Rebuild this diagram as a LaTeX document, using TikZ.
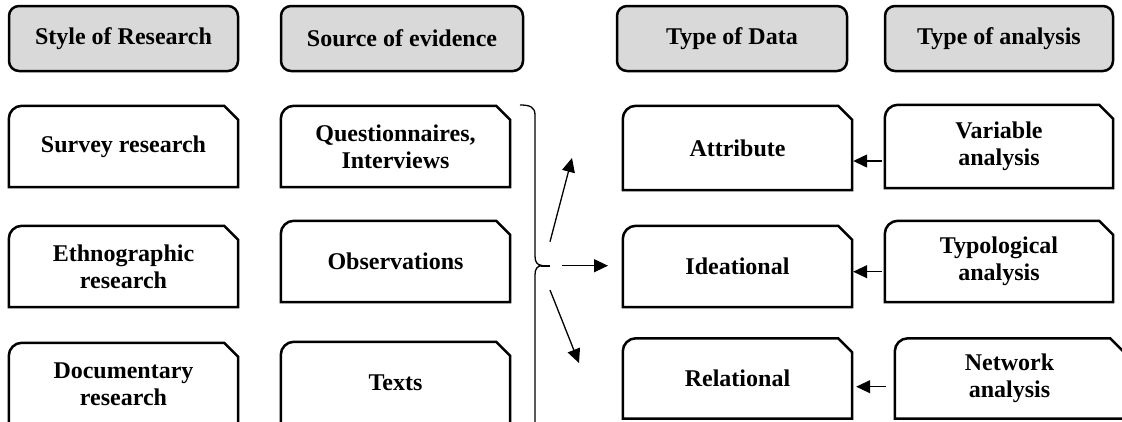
\documentclass[tikz,border=0pt]{standalone}
\usepackage{fontspec}
\setmainfont{Liberation Serif}
\usetikzlibrary{arrows.meta}
\definecolor{hdrgray}{RGB}{217,217,217}
\tikzset{
  txt/.style={font=\fontsize{24}{27}\selectfont\bfseries, align=center, inner sep=0pt},
  hdr/.style={txt, draw=black, fill=hdrgray, line width=2.5pt, rounded corners=10pt, minimum height=65pt},
  bodybox/.style={txt, minimum height=81pt, minimum width=229pt},
  outline/.style={line width=2.5pt, line join=miter},
  arr/.style={line width=1.3pt, -{Triangle[length=14pt,width=13pt]}},
  bracel/.style={line width=1.3pt},
}
\newcommand\boxoutline[1]{%
  \draw[outline] (#1.south west) -- ([yshift=-13pt]#1.north west)
    arc[start angle=180,end angle=90,radius=13pt]
    -- ([xshift=-14pt]#1.north east) -- ([yshift=-14pt]#1.north east)
    -- (#1.south east) -- cycle;}
\begin{document}
\begin{tikzpicture}[x=1pt,y=1pt]
\useasboundingbox (0,0) rectangle (1122,-421);
\clip (0,0) rectangle (1122,-421);
% headers
\node[hdr, minimum width=229pt] (h1) at (123.5,-38.5) {Style of Research};
\node[hdr, minimum width=242pt] (h2) at (402,-38.5) {Source of evidence};
\node[hdr, minimum width=230pt] (h3) at (732,-38.5) {Type of Data};
\node[hdr, minimum width=228pt] (h4) at (999,-38.5) {Type of analysis};
% body boxes
\node[bodybox] (b11) at (123.5,-146.5) {Survey research};
\node[bodybox] (b12) at (395.5,-146.5) {Questionnaires,\\Interviews};
\node[bodybox, minimum height=84pt] (b13) at (737.5,-148) {Attribute};
\node[bodybox, minimum width=228pt, minimum height=83pt] (b14) at (999,-146.5) {Variable\\analysis};
\node[bodybox] (b21) at (123.5,-266.5) {Ethnographic\\research};
\node[bodybox] (b22) at (395.5,-261.5) {Observations};
\node[bodybox] (b23) at (737.5,-266.5) {Ideational};
\node[bodybox, minimum width=228pt] (b24) at (999,-261.5) {Typological\\analysis};
\node[bodybox, minimum height=82pt] (b31) at (123.5,-384) {Documentary\\research};
\node[bodybox, minimum height=82pt] (b32) at (395.5,-383) {Texts};
\node[bodybox, minimum height=80pt] (b33) at (737.5,-378.5) {Relational};
\node[bodybox, minimum height=80pt] (b34) at (1009.5,-378.5) {Network\\analysis};
\foreach \n in {b11,b12,b13,b14,b21,b22,b23,b24,b31,b32,b33,b34} {\boxoutline{\n}}
% arrows from analysis to data
\path (b14.west |- 0,-161) ++(-3,0) coordinate (t1);
\draw[arr] (t1) -- ([xshift=1pt]b13.east |- t1);
\path (b24.west |- 0,-271.7) ++(-3,0) coordinate (t2);
\draw[arr] (t2) -- ([xshift=1pt]b23.east |- t2);
\path (b34.west |- 0,-386.7) ++(-9,0) coordinate (t3);
\draw[arr] (t3) -- ([xshift=4pt]b33.east |- t3);
% brace
\draw[bracel] (520,-105) .. controls (530,-105) and (535,-107) .. (535,-115)
  -- (535,-256) .. controls (535,-262) and (537,-265) .. (542,-265.5)
  .. controls (537,-266) and (535,-269) .. (535,-275) -- (535,-430);
\coordinate (bm) at (541,-265.5);
\draw[line width=2pt] (bm) -- ++(9,0);
% arrows from brace
\coordinate (s1) at (550,-241.7);
\coordinate (e1) at (572,-158);
\draw[arr] (s1) -- (e1);
\coordinate (s2) at (562,-265.7);
\coordinate (e2) at (608,-265.7);
\draw[arr] (s2) -- (e2);
\coordinate (s3) at (550,-290);
\coordinate (e3) at (579,-363);
\draw[arr] (s3) -- (e3);
\end{tikzpicture}
\end{document}
